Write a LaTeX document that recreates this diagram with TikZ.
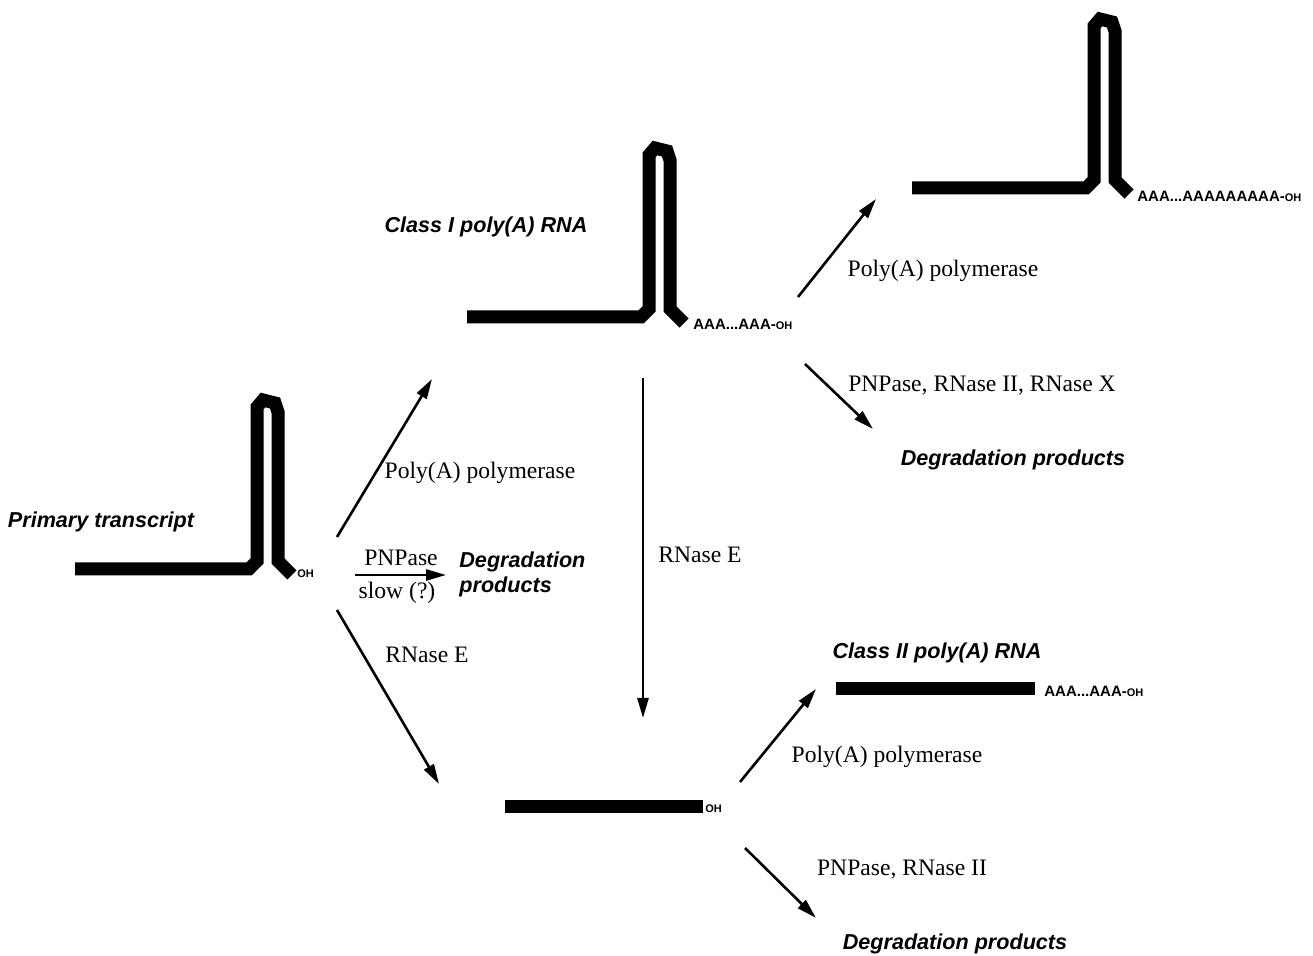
\documentclass[tikz,border=0pt]{standalone}
\usepackage{fontspec}
\setmainfont{Liberation Serif}
\setsansfont{Liberation Sans}
\usetikzlibrary{arrows.meta}

\newcommand{\ohend}{{\fontsize{5.5}{6}\selectfont OH}}

\tikzset{
  rna/.style={line width=6.5pt, line join=miter},
  react/.style={line width=1.3pt, -{Triangle[length=10pt,width=5.5pt]}},
  enzyme/.style={font=\fontsize{11.8}{14}\selectfont, inner sep=1pt},
  product/.style={font=\sffamily\bfseries\itshape\fontsize{10.8}{12.5}\selectfont, inner sep=1pt},
  tail/.style={font=\sffamily\bfseries\fontsize{7.5}{8}\selectfont, inner sep=0pt, anchor=west},
  hairpin/.pic={
    \draw[rna] (0,0) -- (174,0) -- (182,-8) -- (182,-162) -- (188,-169)
      -- (200,-166) -- (203,-157) -- (203,-8) -- (217,6);
  }
}

\begin{document}
\begin{tikzpicture}[x=0.5pt, y=-0.5pt]
  \useasboundingbox (0,0) rectangle (1313,956);

  % molecules
  \pic at (75,569) {hairpin};
  \pic at (467,317) {hairpin};
  \pic at (912,188) {hairpin};
  \draw[rna] (836,689) -- (1035,689);
  \draw[rna] (505,807) -- (703,807);

  \node[tail] (ohp) at (297,574) {\ohend};
  \node[tail] (tl1) at (693,324) {AAA...AAA-\ohend};
  \node[tail] (tl2) at (1137,196) {AAA...AAAAAAAAA-\ohend};
  \node[tail] (tl3) at (1044,691) {AAA...AAA-\ohend};
  \node[tail] (ohb) at (705,809) {\ohend};

  % names
  \node[product] (prim) at (101,522) {Primary transcript};
  \node[product] (cls1) at (486,227) {Class I poly(A) RNA};
  \node[product] (cls2) at (937,653) {Class II poly(A) RNA};
  \node[product] (deg1) at (1013,460) {Degradation products};
  \node[product] (deg2) at (955,944) {Degradation products};
  \node[product, align=left, anchor=west] (deg0) at (457,574) {Degradation\\products};

  % arrow ends
  \coordinate (a1) at (337,537);  \coordinate (b1) at (432,379);
  \coordinate (a2) at (355,575);  \coordinate (b2) at (446,575);
  \coordinate (a3) at (337,610);  \coordinate (b3) at (439,784);
  \coordinate (a4) at (643,378);  \coordinate (b4) at (643,718);
  \coordinate (a5) at (798,297);  \coordinate (b5) at (876,199);
  \coordinate (a6) at (805,364);  \coordinate (b6) at (873,429);
  \coordinate (a7) at (740,782);  \coordinate (b7) at (816,689);
  \coordinate (a8) at (745,848);  \coordinate (b8) at (816,918);

  \draw[react] (a1) -- (b1);
  \draw[react] (a2) -- (b2);
  \draw[react] (a3) -- (b3);
  \draw[react] (a4) -- (b4);
  \draw[react] (a5) -- (b5);
  \draw[react] (a6) -- (b6);
  \draw[react] (a7) -- (b7);
  \draw[react] (a8) -- (b8);

  % enzymes
  \node[enzyme] (pap1) at (480,473) {Poly(A) polymerase};
  \node[enzyme] (pnp0) at (401,558) {PNPase};
  \node[enzyme] (slow) at (397,593) {slow (?)};
  \node[enzyme] (rne1) at (427,655) {RNase E};
  \node[enzyme] (rne2) at (700,555) {RNase E};
  \node[enzyme] (pap2) at (943,271) {Poly(A) polymerase};
  \node[enzyme] (exo1) at (982,386) {PNPase, RNase II, RNase X};
  \node[enzyme] (pap3) at (887,757) {Poly(A) polymerase};
  \node[enzyme] (exo2) at (902,870) {PNPase, RNase II};
\end{tikzpicture}
\end{document}
